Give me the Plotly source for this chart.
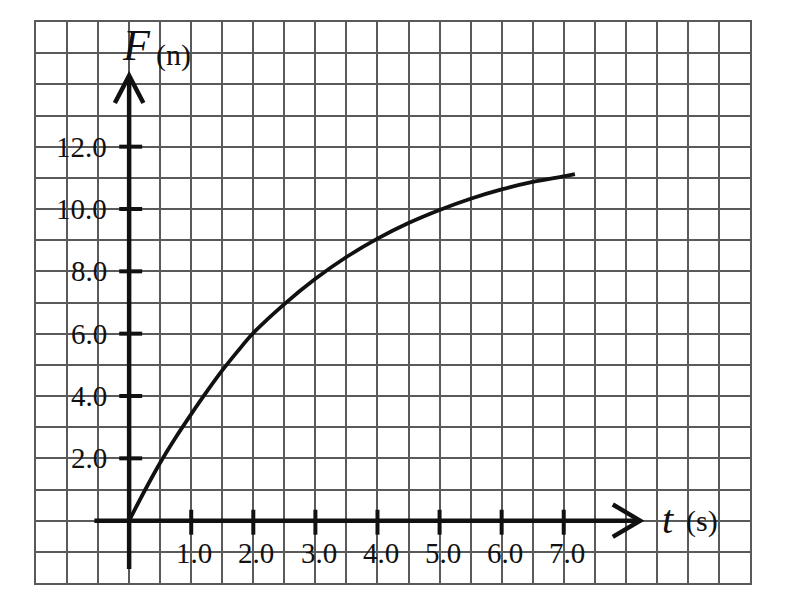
import plotly.graph_objects as go

# force F (n) against time t (s)
t_vals = [0.0, 0.25, 0.5, 0.75, 1.0, 1.25, 1.5, 1.75, 2.0, 2.5, 3.0, 3.5,
          4.0, 4.5, 5.0, 5.5, 6.0, 6.5, 7.0, 7.18]
f_vals = [0.0, 0.96, 1.86, 2.67, 3.42, 4.14, 4.82, 5.44, 6.02, 6.95, 7.76, 8.46,
          9.05, 9.55, 9.97, 10.33, 10.63, 10.87, 11.05, 11.12]

t_ticks = [1, 2, 3, 4, 5, 6, 7]
t_labels = ["1.0", "2.0", "3.0", "4.0", "5.0", "6.0", "7.0"]
f_ticks = [2, 4, 6, 8, 10, 12]
f_labels = ["2.0", "4.0", "6.0", "8.0", "10.0", "12.0"]

serif = "Liberation Serif"
ink = "#111111"

fig = go.Figure()

fig.add_trace(go.Scatter(x=t_vals, y=f_vals, mode="lines", line_shape="spline",
                         line=dict(color=ink, width=3.8), hoverinfo="skip"))

shapes = []
# axes with arrow heads
shapes.append(dict(type="line", x0=0, x1=0, y0=-1.55, y1=14.25, line=dict(color=ink, width=4.5)))
shapes.append(dict(type="path", path="M -0.23,13.4 L 0,14.28 L 0.23,13.4", line=dict(color=ink, width=4.5)))
shapes.append(dict(type="line", x0=-0.56, x1=8.2, y0=0, y1=0, line=dict(color=ink, width=4.5)))
shapes.append(dict(type="path", path="M 7.79,0.52 L 8.23,0 L 7.79,-0.52", line=dict(color=ink, width=4.5)))

for t in t_ticks:
    shapes.append(dict(type="line", x0=t, x1=t, y0=0.35, y1=-0.45, line=dict(color=ink, width=4)))
for f in f_ticks:
    shapes.append(dict(type="line", x0=-0.16, x1=0.21, y0=f, y1=f, line=dict(color=ink, width=4)))

annotations = []
for t, lab in zip(t_ticks, t_labels):
    annotations.append(dict(x=t + 0.05, y=-1.05, text=lab, showarrow=False,
                            font=dict(family=serif, size=29, color=ink)))
for f, lab in zip(f_ticks, f_labels):
    annotations.append(dict(x=-0.33, y=f, text=lab, showarrow=False, xanchor="right",
                            font=dict(family=serif, size=29, color=ink)))

annotations.append(dict(x=0.12, y=15.25, text="<i>F</i>", showarrow=False,
                        font=dict(family=serif, size=44, color=ink)))
annotations.append(dict(x=0.72, y=14.95, text="(n)", showarrow=False,
                        font=dict(family=serif, size=30, color=ink)))
annotations.append(dict(x=8.68, y=0.05, text="<i>t</i>", showarrow=False,
                        font=dict(family=serif, size=40, color=ink)))
annotations.append(dict(x=9.22, y=0, text="(s)", showarrow=False,
                        font=dict(family=serif, size=30, color=ink)))

grid = dict(showgrid=True, gridcolor="#5a5a5a", gridwidth=1.5, zeroline=False,
            showticklabels=False, ticks="", showline=True, linecolor="#5a5a5a",
            linewidth=2, mirror=True, fixedrange=True)

fig.update_xaxes(range=[-1.5, 10], tick0=0, dtick=0.5, **grid)
fig.update_yaxes(range=[-2, 16], tick0=0, dtick=1, **grid)

# the page body adds an 8px margin, so the figure is drawn a bit smaller
fig.update_layout(width=792, height=598, margin=dict(l=28, r=50, t=14, b=23),
                  plot_bgcolor="white", paper_bgcolor="white", showlegend=False,
                  shapes=shapes, annotations=annotations)

fig.write_html("out.html")
